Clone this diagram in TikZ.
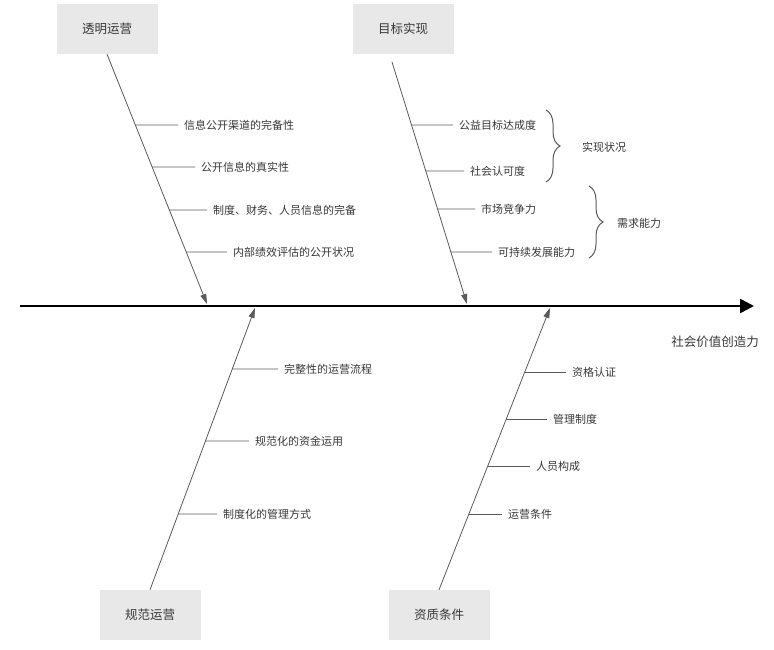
\documentclass[tikz,border=0pt]{standalone}
\usepackage{fontspec}
\setmainfont{Noto Sans CJK SC}
\usetikzlibrary{arrows.meta,positioning,decorations.pathreplacing}
\definecolor{BoxGray}{RGB}{232,232,232}
\definecolor{BoneGray}{RGB}{90,90,90}
\definecolor{TextGray}{RGB}{55,55,55}
\tikzset{
  catbox/.style={fill=BoxGray,minimum width=101pt,minimum height=50pt,
    inner sep=0pt,text=TextGray,font=\fontsize{12.5}{14}\selectfont},
  causetext/.style={anchor=west,text=TextGray,inner sep=3pt,outer sep=3pt,
    font=\fontsize{11}{13}\selectfont},
  spine/.style={-{Triangle[length=14pt,width=14pt]},line width=2.6pt,draw=black},
  bone/.style={-{Triangle[length=10pt,width=6pt]},line width=0.8pt,draw=BoneGray},
  twig/.style={line width=0.9pt,draw=BoneGray},
  groupbrace/.style={decorate,decoration={brace,amplitude=14pt},
    line width=1pt,draw=BoneGray},
}

\begin{document}
\begin{tikzpicture}[x=1pt,y=-1pt]
  \useasboundingbox (0,0) rectangle (774,650);
  % main spine
  \coordinate (sL) at (20,306);
  \coordinate (sR) at (754,306);
  \draw[spine] (sL) -- (sR);
  \node[text=TextGray,font=\fontsize{12.5}{14}\selectfont] (out) at (715,342) {社会价值创造力};

  % category boxes
  \node[catbox] (t1) at (107,29) {透明运营};
  \node[catbox] (t2) at (403,29) {目标实现};
  \node[catbox] (b1) at (150,615) {规范运营};
  \node[catbox] (b2) at (439,615) {资质条件};

  % bones
  \coordinate (e1) at (207,304);
  \coordinate (s2) at (392,62);
  \coordinate (e2) at (467,304);
  \coordinate (e3) at (255,308);
  \coordinate (e4) at (550,308);
  \draw[bone] (t1.south) -- (e1);
  \draw[bone] (s2) -- (e2);
  \draw[bone] (b1.north) -- (e3);
  \draw[bone] (b2.north) -- (e4);

  % causes
  \node[causetext] (c11) at (178,125) {信息公开渠道的完备性};
  \node[causetext] (c12) at (195,167) {公开信息的真实性};
  \node[causetext] (c13) at (207,210) {制度、财务、人员信息的完备};
  \node[causetext] (c14) at (227,252) {内部绩效评估的公开状况};
  \node[causetext] (c21) at (453,125) {公益目标达成度};
  \node[causetext] (c22) at (464,171) {社会认可度};
  \node[causetext] (c23) at (475,209) {市场竞争力};
  \node[causetext] (c24) at (492,252) {可持续发展能力};
  \node[causetext] (c31) at (278,369) {完整性的运营流程};
  \node[causetext] (c32) at (249,441) {规范化的资金运用};
  \node[causetext] (c33) at (217,514) {制度化的管理方式};
  \node[causetext] (c41) at (566,372) {资格认证};
  \node[causetext] (c42) at (547,419) {管理制度};
  \node[causetext] (c43) at (530,466) {人员构成};
  \node[causetext] (c44) at (502,514) {运营条件};

  \draw[twig] (intersection of t1.south--e1 and c11.west--c11.east) -- (c11.west);
  \draw[twig] (intersection of t1.south--e1 and c12.west--c12.east) -- (c12.west);
  \draw[twig] (intersection of t1.south--e1 and c13.west--c13.east) -- (c13.west);
  \draw[twig] (intersection of t1.south--e1 and c14.west--c14.east) -- (c14.west);
  \draw[twig] (intersection of s2--e2 and c21.west--c21.east) -- (c21.west);
  \draw[twig] (intersection of s2--e2 and c22.west--c22.east) -- (c22.west);
  \draw[twig] (intersection of s2--e2 and c23.west--c23.east) -- (c23.west);
  \draw[twig] (intersection of s2--e2 and c24.west--c24.east) -- (c24.west);
  \draw[twig] (intersection of b1.north--e3 and c31.west--c31.east) -- (c31.west);
  \draw[twig] (intersection of b1.north--e3 and c32.west--c32.east) -- (c32.west);
  \draw[twig] (intersection of b1.north--e3 and c33.west--c33.east) -- (c33.west);
  \draw[twig] (intersection of b2.north--e4 and c41.west--c41.east) -- (c41.west);
  \draw[twig] (intersection of b2.north--e4 and c42.west--c42.east) -- (c42.west);
  \draw[twig] (intersection of b2.north--e4 and c43.west--c43.east) -- (c43.west);
  \draw[twig] (intersection of b2.north--e4 and c44.west--c44.east) -- (c44.west);

  % groups
  \draw[groupbrace] (546,110) -- (546,182);
  \draw[groupbrace] (589,186) -- (589,258);
  \node[causetext] (g1) at (576,147) {实现状况};
  \node[causetext] (g2) at (611,223) {需求能力};
\end{tikzpicture}
\end{document}
